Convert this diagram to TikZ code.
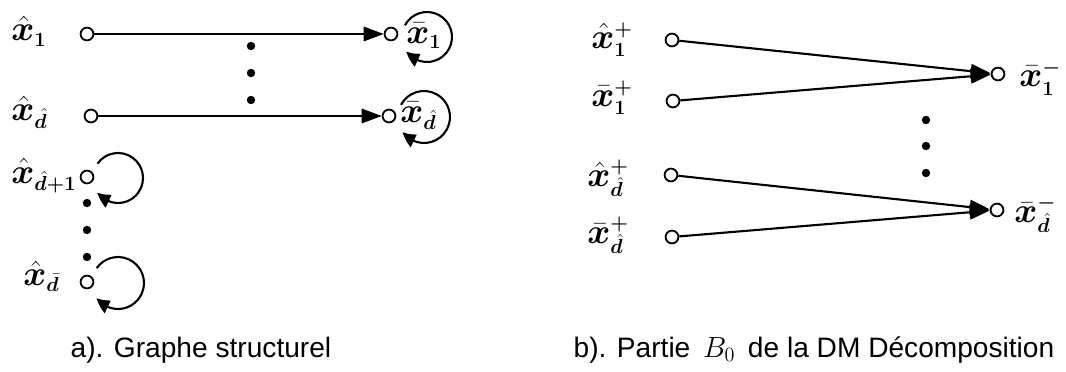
\documentclass[tikz,border=0pt]{standalone}
\usepackage{bm}
\usepackage{fontspec}
\setmainfont{Liberation Sans}
\DeclareMathSizes{26}{26}{15}{11}
\usetikzlibrary{arrows.meta,bending}
\tikzstyle{vtx}=[circle, draw, line width=1.3pt, inner sep=0pt, minimum size=0.32cm, fill=white]
\tikzstyle{pt}=[circle, fill, inner sep=0pt, minimum size=0.21cm]
\tikzstyle{lab}=[inner sep=0pt, anchor=west, font=\fontsize{26}{30}\selectfont]
\tikzstyle{captext}=[inner sep=0pt, font=\fontsize{20}{24}\selectfont]
\tikzstyle{arr}=[line width=1.5pt, -{Triangle[length=0.5cm,width=0.36cm]}]
\tikzstyle{selfarr}=[line width=1.5pt, -{Triangle[length=0.36cm,width=0.34cm,bend]}]

\begin{document}
\begin{tikzpicture}[x=0.025cm, y=-0.025cm]
        \useasboundingbox (0,0) rectangle (1066,372);
        \node[lab] (la1) at (11,31) {$\bm{\hat{x}}_{\bm{1}}$};
        \node[lab] (la2) at (11,112) {$\bm{\hat{x}}_{\bm{\hat{d}}}$};
        \node[lab] (la3) at (11,176) {$\bm{\hat{x}}_{\bm{\hat{d}+1}}$};
        \node[lab] (la4) at (23,276) {$\bm{\hat{x}}_{\bm{\bar{d}}}$};
        \node[vtx] (a1) at (87,34) {};
        \node[vtx] (a2) at (91,116) {};
        \node[vtx] (a3) at (87,177) {};
        \node[vtx] (a4) at (87,282) {};
        \node[vtx] (b1) at (391,34) {};
        \node[vtx] (b2) at (389,116) {};
        \node[lab] (lb1) at (406,36) {$\bm{\bar{x}}_{\bm{1}}$};
        \node[lab] (lb2) at (400,116) {$\bm{\bar{x}}_{\bm{\hat{d}}}$};
        \draw[arr] (a1) -- (b1);
        \draw[arr] (a2) -- (b2);
        \coordinate (cb1) at (427,37);
        \coordinate (cb2) at (424,117);
        \coordinate (ca3) at (118,178);
        \coordinate (ca4) at (118,283);
        \draw[selfarr] (cb1) ++(208:25) arc[start angle=208, end angle=505, radius=25];
        \draw[selfarr] (cb2) ++(208:26) arc[start angle=208, end angle=505, radius=26];
        \draw[selfarr] (ca3) ++(215:25) arc[start angle=215, end angle=505, radius=25];
        \draw[selfarr] (ca4) ++(215:26) arc[start angle=215, end angle=505, radius=26];
        \foreach \y [count=\i] in {46,73,100} \node[pt] (da\i) at (251,\y) {};
        \foreach \y [count=\i] in {203,230,257} \node[pt] (dc\i) at (87,\y) {};
        \node[captext] (capa) at (201,350) {a). Graphe structurel};

        \node[lab] (lp1) at (591,40) {$\bm{\hat{x}}^{\bm{+}}_{\bm{1}}$};
        \node[lab] (lp2) at (591,98) {$\bm{\bar{x}}^{\bm{+}}_{\bm{1}}$};
        \node[lab] (lp3) at (587,178) {$\bm{\hat{x}}^{\bm{+}}_{\bm{\hat{d}}}$};
        \node[lab] (lp4) at (587,235) {$\bm{\bar{x}}^{\bm{+}}_{\bm{\hat{d}}}$};
        \node[vtx] (p1) at (672,40) {};
        \node[vtx] (p2) at (673,101) {};
        \node[vtx] (p3) at (671,175) {};
        \node[vtx] (p4) at (672,237) {};
        \node[vtx] (q1) at (998,74) {};
        \node[vtx] (q2) at (997,210) {};
        \node[lab] (lq1) at (1019,78) {$\bm{\bar{x}}^{\bm{-}}_{\bm{1}}$};
        \node[lab] (lq2) at (1014,214) {$\bm{\bar{x}}^{\bm{-}}_{\bm{\hat{d}}}$};
        \draw[arr] (p1) -- (q1);
        \draw[arr] (p2) -- (q1);
        \draw[arr] (p3) -- (q2);
        \draw[arr] (p4) -- (q2);
        \foreach \y [count=\i] in {120,146,173} \node[pt] (dq\i) at (926,\y) {};
        \node[captext] (capb) at (814,350) {b). Partie \hspace{0.12cm}$B_0$\hspace{0.12cm} de la DM Décomposition};
\end{tikzpicture}
\end{document}
